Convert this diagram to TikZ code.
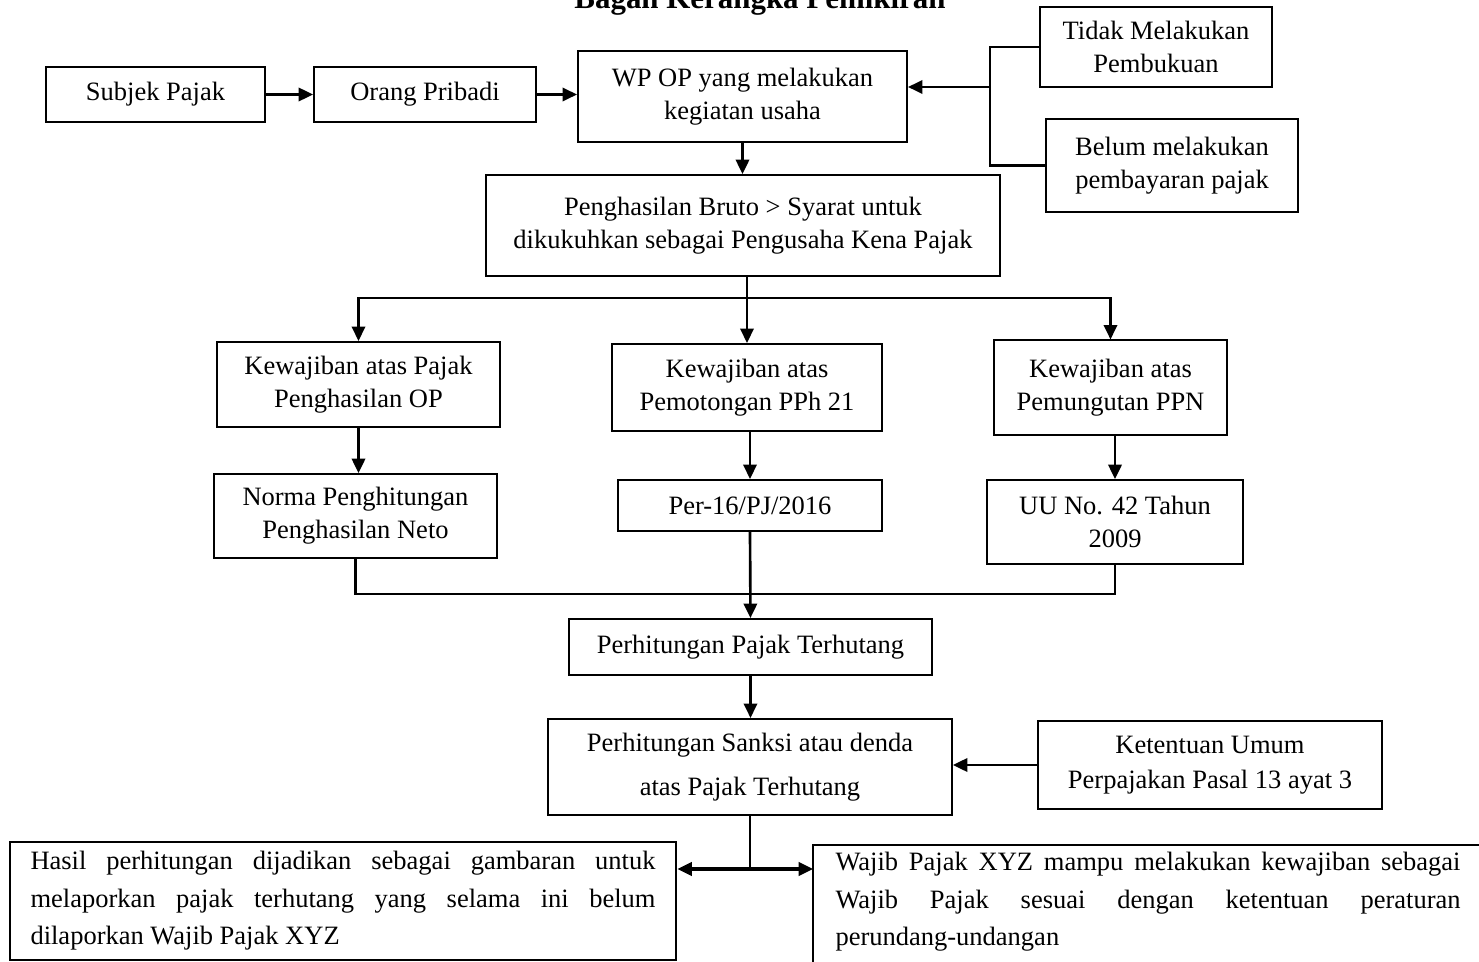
\documentclass[tikz,border=0pt]{standalone}
\usepackage{fontspec}
\setmainfont{Liberation Serif}
\usetikzlibrary{arrows.meta}

\begin{document}
\begin{tikzpicture}[x=0.4528pt,y=-0.4528pt,
  every node/.style={font=\fontsize{12}{15}\selectfont,align=center,inner sep=0pt},
  box/.style={draw,rectangle,line width=0.9pt},
  arr/.style={-{Triangle[length=6.5pt,width=6pt]},line width=1.2pt},
  dbl/.style={{Triangle[length=6.5pt,width=6pt]}-{Triangle[length=6.5pt,width=6pt]},line width=1.4pt},
  link/.style={line width=1pt}]
\useasboundingbox (0,0) rectangle (1479,962);
\node (judul) [anchor=base,font=\fontsize{14}{16}\selectfont\bfseries] at (760,9) {Bagan Kerangka Pemikiran};
\node (subjek) [box,minimum width=99.2pt,minimum height=24.9pt] at (155.5,94.5) {Subjek Pajak};
\node (orang) [box,minimum width=100.5pt,minimum height=24.9pt] at (425,94.5) {Orang Pribadi};
\node (wpop) [box,minimum width=149pt,minimum height=40.8pt] at (742.5,96.5) {WP OP yang melakukan\\kegiatan usaha};
\node (tidak) [box,minimum width=105pt,minimum height=36.2pt] at (1156,47) {Tidak Melakukan\\Pembukuan};
\node (belum) [box,minimum width=114.1pt,minimum height=42.1pt] at (1172,165.5) {Belum melakukan\\pembayaran pajak};
\node (bruto) [box,minimum width=232.7pt,minimum height=45.7pt] at (743,225.5) {Penghasilan Bruto > Syarat untuk\\dikukuhkan sebagai Pengusaha Kena Pajak};
\node (kewop) [box,minimum width=128.1pt,minimum height=38.5pt] at (358.5,384.5) {Kewajiban atas Pajak\\Penghasilan OP};
\node (kewpph) [box,minimum width=122.3pt,minimum height=39.4pt] at (747,387.5) {Kewajiban atas\\Pemotongan PPh 21};
\node (kewppn) [box,minimum width=105.5pt,minimum height=42.6pt] at (1110.5,387.5) {Kewajiban atas\\Pemungutan PPN};
\node (norma) [box,minimum width=128.1pt,minimum height=38pt] at (355.5,516) {Norma Penghitungan\\Penghasilan Neto};
\node (per16) [box,minimum width=119.5pt,minimum height=23.1pt] at (750,505.5) {Per-16/PJ/2016};
\node (uu) [box,minimum width=115.9pt,minimum height=38pt] at (1115,522) {UU No. 42 Tahun\\2009};
\node (hitung) [box,minimum width=164.4pt,minimum height=25.4pt] at (750.5,647) {Perhitungan Pajak Terhutang};
\node (sanksi) [box,minimum width=182.9pt,minimum height=43.5pt,font=\fontsize{12}{20}\selectfont] at (750,767) {Perhitungan Sanksi atau denda\\atas Pajak Terhutang};
\node (ketentuan) [box,minimum width=155.8pt,minimum height=39.8pt,font=\fontsize{12}{16}\selectfont] at (1210,765) {Ketentuan Umum\\Perpajakan Pasal 13 ayat 3};
\node (hasil) [box,text width=283pt,inner xsep=9.5pt,inner ysep=3pt,minimum height=53.4pt,align=justify,font=\fontsize{12}{17}\selectfont] at (343,901) {\noindent Hasil perhitungan dijadikan sebagai gambaran untuk\linebreak melaporkan pajak terhutang yang selama ini belum\linebreak dilaporkan Wajib Pajak XYZ};
\node (wajib) [anchor=north west,text width=283pt,inner xsep=10pt,inner ysep=3pt,align=justify,font=\fontsize{12}{17}\selectfont] at (813,845) {\noindent Wajib Pajak XYZ mampu melakukan kewajiban sebagai\linebreak Wajib Pajak sesuai dengan ketentuan peraturan\linebreak perundang-undangan};
\draw[line width=0.9pt] (wajib.north east) -- (wajib.north west) -- ++(0,150);
\coordinate (ikat) at (990,87);
\coordinate (cabang) at (747,298);
\coordinate (gabung) at (750,594);
\coordinate (pisah) at (750,869);
\draw[arr] (subjek) -- (orang);
\draw[arr] (orang.east) -- (orang.east -| wpop.west);
\draw[link] (tidak.west) -| (ikat |- belum.west) -- (belum.west);
\draw[arr] (ikat) -- (ikat -| wpop.east);
\draw[arr] (wpop.south) -- (wpop.south |- bruto.north);
\draw[link] (bruto.south -| cabang) -- (cabang);
\draw[arr] (cabang) -| (kewop.north);
\draw[arr] (cabang) -- (kewpph.north);
\draw[arr] (cabang) -| (kewppn.north);
\draw[arr] (kewop.south) -- (kewop.south |- norma.north);
\draw[arr] (per16.north |- kewpph.south) -- (per16.north);
\draw[arr] (uu.north |- kewppn.south) -- (uu.north);
\draw[link] (norma.south) |- (gabung) -| (uu.south);
\draw[arr] (per16.south) -- (hitung.north);
\draw[arr] (hitung.south) -- (hitung.south |- sanksi.north);
\draw[arr] (ketentuan.west) -- (ketentuan.west -| sanksi.east);
\draw[line width=0.6pt] (sanksi.south) -- (pisah);
\draw[dbl] (hasil.east |- pisah) -- (wajib.west |- pisah);
\end{tikzpicture}
\end{document}
